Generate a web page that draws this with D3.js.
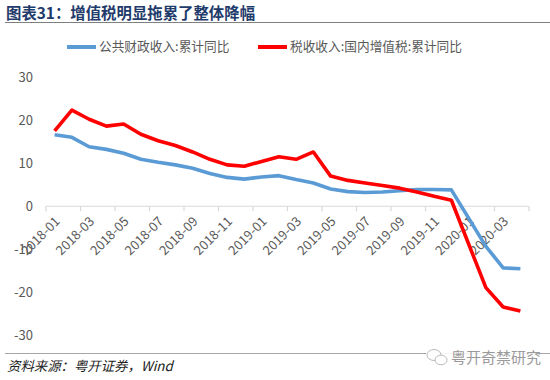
<!DOCTYPE html>
<html>
<head>
<meta charset="utf-8">
<script src="https://cdn.jsdelivr.net/npm/d3@7"></script>
<style>
  body { margin: 0; background: #fff; }
  svg { display: block; font-family: "Noto Sans CJK SC", "Noto Sans", sans-serif; }
</style>
</head>
<body>
<div id="chart"></div>
<script>
// months on the category axis
const months = [
  "2018-01","2018-02","2018-03","2018-04","2018-05","2018-06","2018-07","2018-08","2018-09","2018-10","2018-11","2018-12",
  "2019-01","2019-02","2019-03","2019-04","2019-05","2019-06","2019-07","2019-08","2019-09","2019-10","2019-11","2019-12",
  "2020-01","2020-02","2020-03","2020-04"
];

// 公共财政收入:累计同比
const publicRevenue = [16.6, 16.0, 13.8, 13.2, 12.3, 10.9, 10.2, 9.6, 8.8, 7.6, 6.7, 6.3,
  6.8, 7.1, 6.2, 5.4, 4.0, 3.4, 3.2, 3.3, 3.6, 3.9, 3.9, 3.8,
  null, -9.3, -14.3, -14.5];

// 税收收入:国内增值税:累计同比
const vatRevenue = [17.5, 22.3, 20.2, 18.6, 19.1, 16.7, 15.2, 14.1, 12.6, 10.9, 9.6, 9.3,
  10.4, 11.5, 10.9, 12.6, 7.0, 6.0, 5.4, 4.8, 4.2, 3.3, 2.3, 1.4,
  null, -18.9, -23.4, -24.3];

const yTicks = [-30, -20, -10, 0, 10, 20, 30];

const seriesList = [
  { name: "公共财政收入:累计同比", values: publicRevenue, color: "#5B9BD5" },
  { name: "税收收入:国内增值税:累计同比", values: vatRevenue, color: "#FF0000" }
];

const width = 550, height = 380;

const svg = d3.select("#chart").append("svg")
  .attr("width", width)
  .attr("height", height);

// title
svg.append("text")
  .attr("x", 6).attr("y", 19)
  .style("font-size", "15.4px")
  .style("font-weight", "bold")
  .style("fill", "#1F3B6B")
  .text("图表31：增值税明显拖累了整体降幅");

svg.append("line")
  .attr("x1", 5).attr("x2", 550).attr("y1", 22.5).attr("y2", 22.5)
  .attr("stroke", "#7f7f7f").attr("stroke-width", 1.2);

// scales
const x = d3.scaleBand().domain(months).range([46, 529]);
const y = d3.scaleLinear().domain([-30, 30]).range([335.5, 77]);
const cx = d => x(d) + x.bandwidth() / 2;

// y labels (no axis line)
svg.append("g")
  .selectAll("text")
  .data(yTicks)
  .join("text")
  .attr("x", 33)
  .attr("y", d => y(d))
  .attr("dy", "0.35em")
  .attr("text-anchor", "end")
  .style("font-size", "13px")
  .style("fill", "#595959")
  .text(d => d);

// x axis at zero
const axisY = y(0);
svg.append("line")
  .attr("x1", x.range()[0]).attr("x2", x.range()[1])
  .attr("y1", axisY).attr("y2", axisY)
  .attr("stroke", "#d9d9d9").attr("stroke-width", 1.2);

const tickIdx = d3.range(0, months.length + 1, 2);
svg.append("g")
  .selectAll("line")
  .data(tickIdx)
  .join("line")
  .attr("x1", i => 46 + i * x.step()).attr("x2", i => 46 + i * x.step())
  .attr("y1", axisY).attr("y2", axisY + 5)
  .attr("stroke", "#d9d9d9").attr("stroke-width", 1.2);

svg.append("g")
  .selectAll("text")
  .data(months.filter((m, i) => i % 2 === 0))
  .join("text")
  .attr("transform", d => `translate(${cx(d) + 6},${axisY + 16}) rotate(-45)`)
  .attr("text-anchor", "end")
  .style("font-size", "13px")
  .style("fill", "#595959")
  .text(d => d);

// lines
const line = d3.line()
  .x(d => cx(d.m))
  .y(d => y(d.v));

seriesList.forEach(s => {
  // the missing 2020-01 value is bridged, as in the source chart
  const pts = months.map((m, i) => ({ m, v: s.values[i] })).filter(d => d.v !== null);
  svg.append("path")
    .datum(pts)
    .attr("fill", "none")
    .attr("stroke", s.color)
    .attr("stroke-width", 3.6)
    .attr("stroke-linejoin", "round")
    .attr("d", line);
});

// legend
const legend = svg.append("g");
const legendPos = [67, 258];
seriesList.forEach((s, i) => {
  const g = legend.append("g").attr("transform", `translate(${legendPos[i]},47)`);
  g.append("line")
    .attr("x1", 0).attr("x2", 29)
    .attr("stroke", s.color).attr("stroke-width", 4);
  g.append("text")
    .attr("x", 32).attr("dy", "0.35em")
    .style("font-size", "12.7px")
    .style("fill", "#595959")
    .text(s.name);
});

// footer
svg.append("line")
  .attr("x1", 5).attr("x2", 550).attr("y1", 353.5).attr("y2", 353.5)
  .attr("stroke", "#a6a6a6").attr("stroke-width", 1);

svg.append("text")
  .attr("x", 7).attr("y", 371)
  .style("font-size", "13.4px")
  .style("font-style", "italic")
  .style("fill", "#222")
  .text("资料来源：粤开证券，Wind");

// watermark
const wm = svg.append("g").attr("transform", "translate(424,357)");
wm.append("rect").attr("x", 2).attr("y", -10).attr("width", 110).attr("height", 20).attr("fill", "#fff").attr("opacity", 0.85);
wm.append("ellipse").attr("cx", 10).attr("cy", -2).attr("rx", 7).attr("ry", 5.5)
  .attr("fill", "#fff").attr("stroke", "#bbb").attr("stroke-width", 1);
wm.append("ellipse").attr("cx", 17).attr("cy", 3).attr("rx", 6).attr("ry", 4.8)
  .attr("fill", "#fff").attr("stroke", "#bbb").attr("stroke-width", 1);
wm.append("text")
  .attr("x", 27).attr("y", 6)
  .style("font-size", "15px")
  .style("fill", "#9a9a9a")
  .text("粤开奇禁研究");
</script>
</body>
</html>
